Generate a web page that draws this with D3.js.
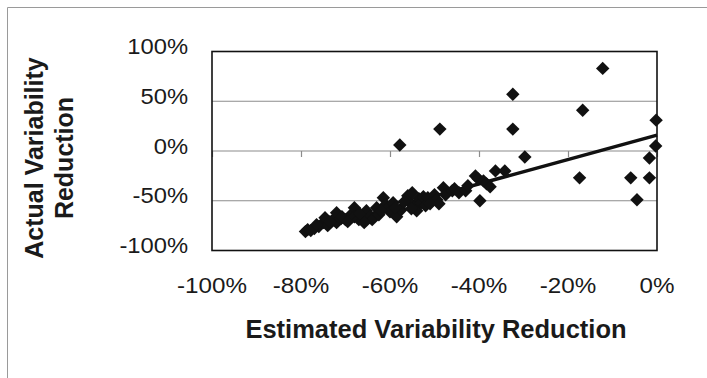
<!DOCTYPE html>
<html>
<head>
<meta charset="utf-8">
<script src="https://cdn.jsdelivr.net/npm/d3@7"></script>
<style>
  body { margin: 0; background: #fff; }
  svg { display: block; font-family: "Liberation Sans", Arial, sans-serif; }
</style>
</head>
<body>
<svg id="chart" width="707" height="378"></svg>
<script>
// estimated variability reduction (%)
const estimated = [
  -79, -78.5, -77, -76, -75, -74.6, -74, -73, -72, -72, -71, -70, -69, -68, -68,
  -67, -66, -65.3, -64.5, -64, -63, -62.5, -61.5, -61, -60.4, -60, -59.3, -58.5,
  -57.5, -56, -55.5, -55, -54.5, -54, -53.5, -53, -52.5, -52, -51.5, -50.5, -50,
  -49.5, -49, -48, -47.5, -46, -45.5, -44.5, -43, -42.5, -40.8, -40.2, -39.8, -39,
  -38.3, -37.5, -36.3, -34.2,
  -77.8, -76.5, -73.5, -70.8, -69.5, -66.8, -65.8, -62, -58.8, -56.8, -55.2, -51,
  -57.8, -48.8, -32.4, -32.4, -29.7, -17.4, -16.7, -12.2, -5.9, -4.5, -1.7, -1.7,
  -0.3, -0.2
];
// actual variability reduction (%)
const actual = [
  -81, -79, -78, -76, -72, -67, -75, -70, -62, -72, -68, -69, -65, -57, -66,
  -69, -69, -60, -66, -69, -57, -64, -47, -54, -57, -61, -52, -66,
  -59, -45, -52, -42, -56, -60, -48, -52, -46, -55, -47, -50, -44,
  -49, -53, -37, -44, -40, -38, -42, -40, -35, -25, -28, -50, -30,
  -33, -36, -20, -20,
  -80, -74, -71, -66, -71, -63, -72, -60, -57, -51, -58, -53,
  6, 22, 57, 22, -6, -27, 41, 83, -27, -49, -27, -7,
  5, 31
];
// linear trend line (fit shown in the picture)
const trendX = [-79, 0];
const trendY = [-81, 16];

const xTicks = [-100, -80, -60, -40, -20, 0];
const yTicks = [-100, -50, 0, 50, 100];

const svg = d3.select("#chart");

// outer chart frame (only left and top edges show)
svg.append("path")
  .attr("d", "M7.5,378V7.5H707")
  .attr("fill", "none")
  .attr("stroke", "#9a9a9a")
  .attr("stroke-width", 1);

const plotL = 212, plotR = 657, plotT = 51.5, plotB = 250.5;

const x = d3.scaleLinear().domain([-100, 0]).range([plotL, plotR]);
const y = d3.scaleLinear().domain([-100, 100]).range([plotB, plotT]);

// gridlines
svg.append("g")
  .selectAll("line")
  .data(yTicks.filter(d => d !== 100 && d !== -100))
  .join("line")
  .attr("x1", plotL).attr("x2", plotR)
  .attr("y1", d => y(d)).attr("y2", d => y(d))
  .attr("stroke", "#8c8c8c")
  .attr("stroke-width", 1.2);

// horizontal axis crosses at 0: tick marks hang from that line
const xAxis = svg.append("g")
  .attr("transform", `translate(0,${y(0)})`)
  .call(d3.axisBottom(x).tickValues(xTicks).tickSize(6).tickFormat(""));
xAxis.select(".domain").remove();
xAxis.selectAll(".tick line").attr("stroke", "#8c8c8c").attr("stroke-width", 1.2);

// x tick labels at the bottom
svg.append("g")
  .selectAll("text")
  .data(xTicks)
  .join("text")
  .attr("transform", d => `translate(${x(d)},292.5) scale(1.1,1)`)
  .attr("text-anchor", "middle")
  .attr("font-size", 22)
  .attr("fill", "#1a1a1a")
  .text(d => d + "%");

// y tick labels
svg.append("g")
  .selectAll("text")
  .data(yTicks)
  .join("text")
  .attr("transform", d => `translate(188,${y(d) + 2.5}) scale(1.08,1)`)
  .attr("text-anchor", "end")
  .attr("font-size", 22)
  .attr("fill", "#1a1a1a")
  .text(d => d + "%");

// plot border
svg.append("rect")
  .attr("x", plotL).attr("y", plotT)
  .attr("width", plotR - plotL).attr("height", plotB - plotT)
  .attr("fill", "none")
  .attr("stroke", "#111")
  .attr("stroke-width", 1.6);

// trend line
svg.append("line")
  .attr("x1", x(trendX[0])).attr("y1", y(trendY[0]))
  .attr("x2", x(trendX[1])).attr("y2", y(trendY[1]))
  .attr("stroke", "#111")
  .attr("stroke-width", 3.5);

// diamond markers
const diamond = d3.symbol(d3.symbolSquare, 90);
svg.append("g")
  .selectAll("path")
  .data(estimated.map((d, i) => [d, actual[i]]))
  .join("path")
  .attr("d", diamond)
  .attr("transform", d => `translate(${x(d[0])},${y(d[1])}) rotate(45)`)
  .attr("fill", "#111");

// axis titles
svg.append("text")
  .attr("x", 436).attr("y", 338)
  .attr("text-anchor", "middle")
  .attr("font-size", 25.5)
  .attr("font-weight", "bold")
  .attr("fill", "#1a1a1a")
  .text("Estimated Variability Reduction");

const yTitle = svg.append("text")
  .attr("transform", "translate(43,158) rotate(-90)")
  .attr("text-anchor", "middle")
  .attr("font-size", 25)
  .attr("font-weight", "bold")
  .attr("fill", "#1a1a1a");
yTitle.append("tspan").attr("x", 0).attr("y", 0).text("Actual Variability");
yTitle.append("tspan").attr("x", 0).attr("y", 30).text("Reduction");
</script>
</body>
</html>
